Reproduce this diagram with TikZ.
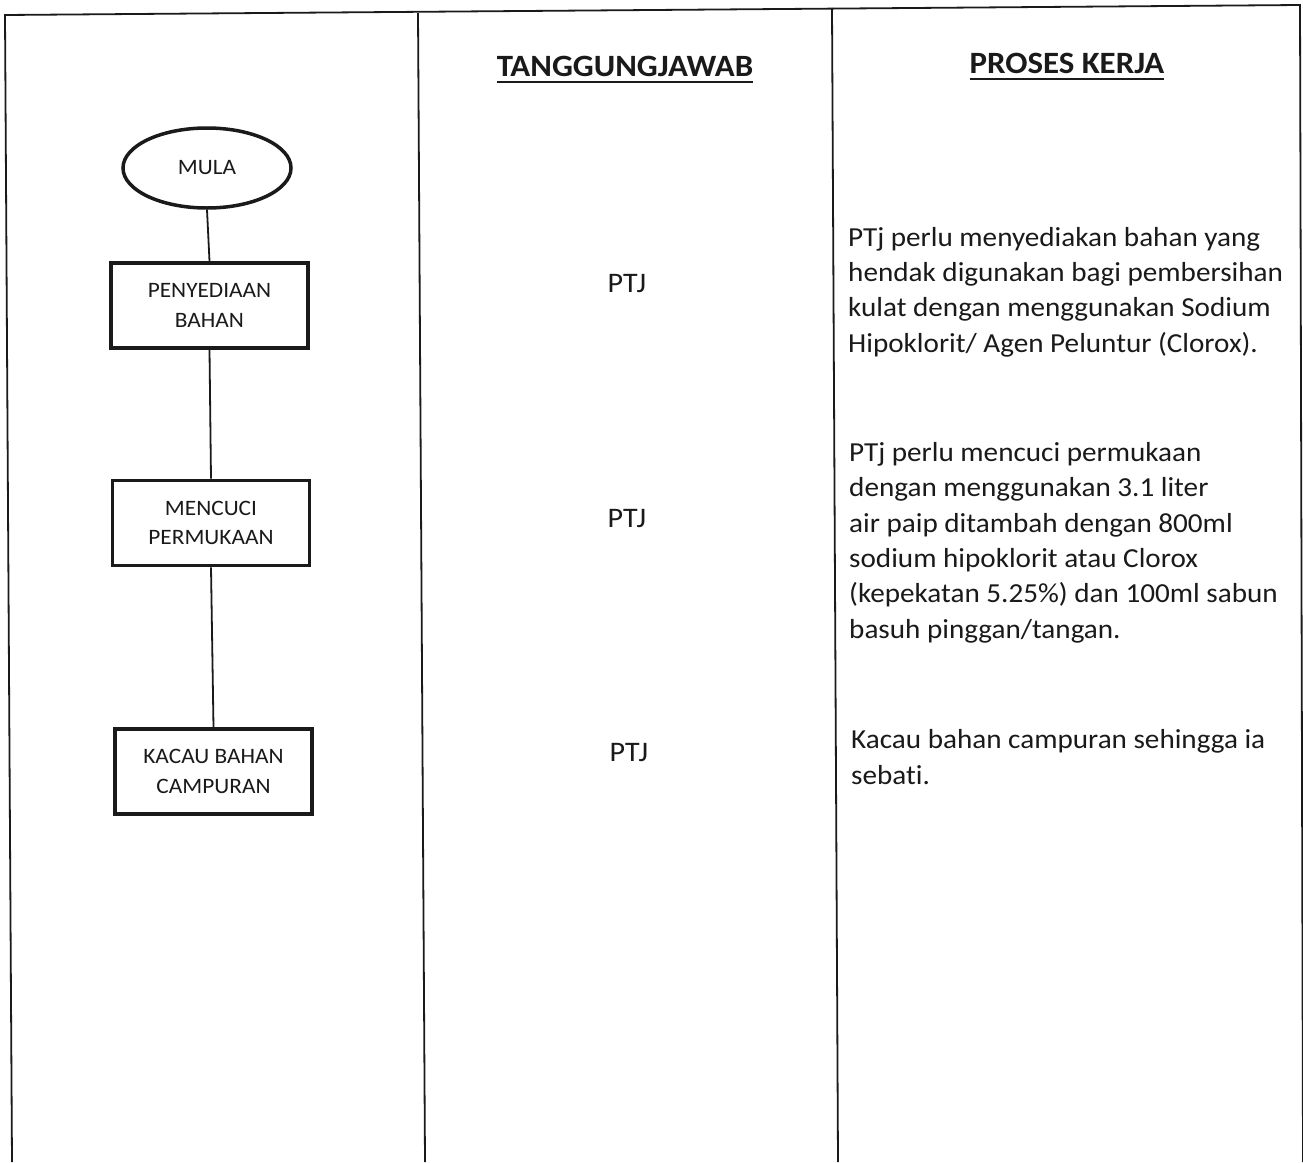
\documentclass[tikz,border=0pt]{standalone}
\usepackage{fontspec}
\setmainfont{Carlito}[FakeStretch=1.06, Ligatures=NoCommon]
\usetikzlibrary{shapes.geometric}
\definecolor{ink}{HTML}{1A1A1A}
\newcommand\headul[1]{\setbox0\hbox{#1}\rlap{\usebox0}\rule[-7pt]{\wd0}{2pt}}
\begin{document}
\begin{tikzpicture}[x=1pt,y=-1pt,
  rule/.style={line width=1.8pt, draw=ink},
  startnode/.style={ellipse, draw=ink, line width=3.5pt, minimum width=168pt, minimum height=80pt, inner sep=0pt, text=ink, font=\fontsize{22}{27}\selectfont},
  procbox/.style={rectangle, draw=ink, line width=3.8pt, minimum width=197pt, minimum height=85pt, inner sep=0pt, align=center, text=ink, font=\fontsize{22}{29.5}\selectfont},
  link/.style={line width=1.8pt, draw=ink},
  head/.style={anchor=base, inner sep=0pt, text=ink, font=\fontsize{31}{36}\selectfont\bfseries},
  who/.style={anchor=base, inner sep=0pt, text=ink, font=\fontsize{28.3}{34}\selectfont},
  desc/.style={anchor=base west, inner sep=0pt, align=left, text=ink, font=\fontsize{27.5}{35.3}\selectfont}
]
\useasboundingbox (0,0) rectangle (1303,1162);
\fill[white] (0,0) rectangle (1303,1162);
% table frame
\draw[rule] (12,1162) -- (5,15) -- (1300,5) -- (1303,1162);
\draw[rule] (418,13) -- (425,1162);
\draw[rule] (832,8) -- (838,1162);
% headers
\node[head] (h1) at (625,76) {\headul{TANGGUNGJAWAB}};
\node[head] (h2) at (1067,73) {\headul{PROSES KERJA}};
% flowchart
\node[startnode] (mula) at (207,168) {MULA};
\node[procbox] (p1) at (209.5,305.5) {PENYEDIAAN\\BAHAN};
\node[procbox] (p2) at (211,523) {MENCUCI\\PERMUKAAN};
\node[procbox] (p3) at (213.5,771.5) {KACAU BAHAN\\CAMPURAN};
\draw[link] (mula.south) -- (p1.north);
\draw[link] (p1.south) -- (p2.north);
\draw[link] (p2.south) -- (p3.north);
% responsibility
\node[who] (r1) at (627,292) {PTJ};
\node[who] (r2) at (627,527) {PTJ};
\node[who] (r3) at (629,761) {PTJ};
% descriptions (anchor = baseline of the last line)
\node[desc] (d1) at (848,352) {PTj perlu menyediakan bahan yang\\hendak digunakan bagi pembersihan\\kulat dengan menggunakan Sodium\\Hipoklorit/ Agen Peluntur (Clorox).};
\node[desc] (d2) at (849,638) {PTj perlu mencuci permukaan\\dengan menggunakan 3.1 liter\\air paip ditambah dengan 800ml\\sodium hipoklorit atau Clorox\\(kepekatan 5.25\%) dan 100ml sabun\\basuh pinggan/tangan.};
\node[desc] (d3) at (851,784) {Kacau bahan campuran sehingga ia\\sebati.};
\end{tikzpicture}
\end{document}
